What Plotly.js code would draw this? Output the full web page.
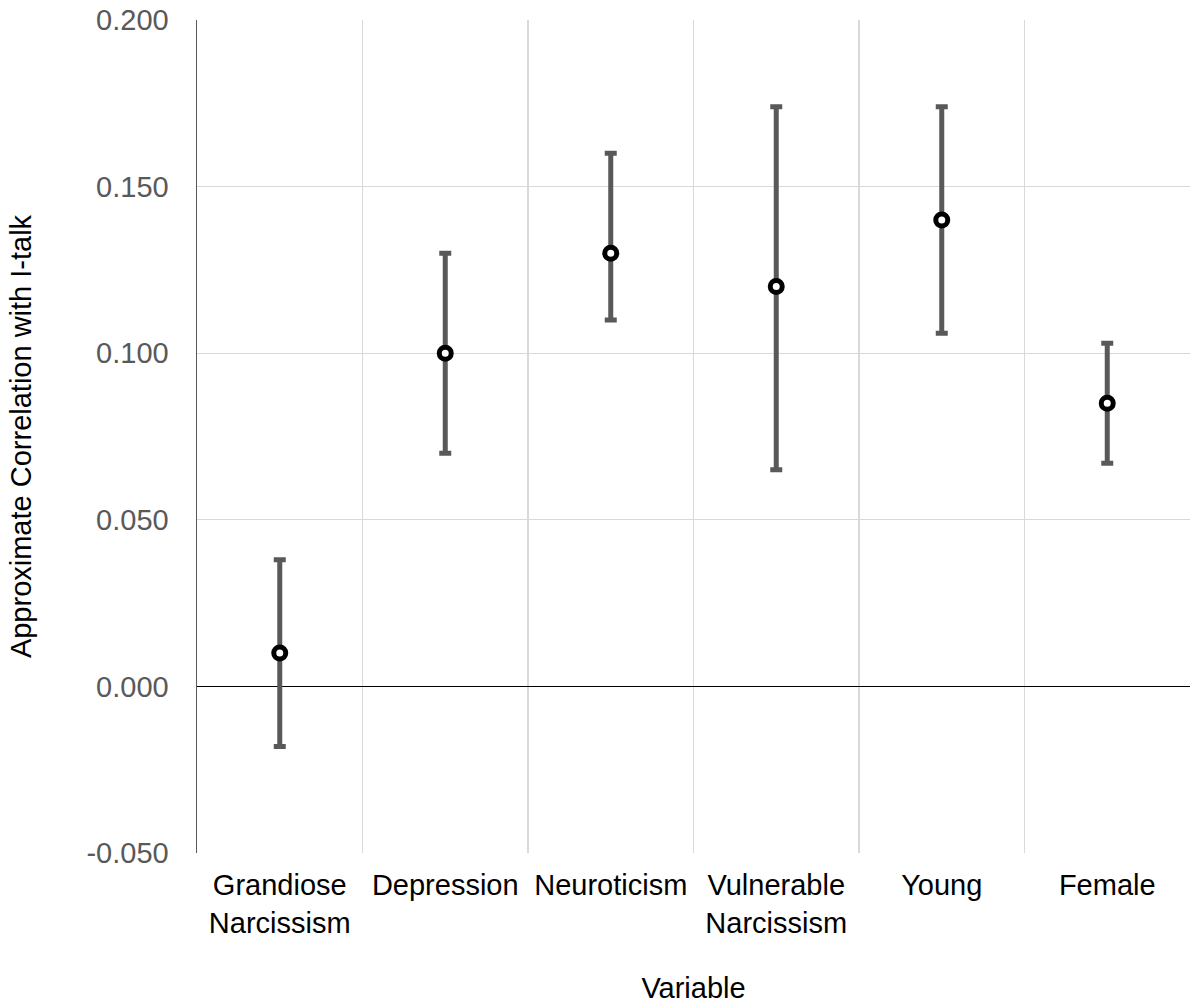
<!DOCTYPE html>
<html>
<head>
<meta charset="utf-8">
<script src="https://cdn.plot.ly/plotly-3.0.1.min.js"></script>
<style>html,body{margin:0;padding:0;background:#fff;}#chart{width:1190px;height:1004px;}</style>
</head>
<body>
<div id="chart"></div>
<script>
var categories = ["Grandiose<br>Narcissism", "Depression", "Neuroticism", "Vulnerable<br>Narcissism", "Young", "Female"];
var estimates = [0.010, 0.100, 0.130, 0.120, 0.140, 0.085];
var upperCI = [0.038, 0.130, 0.160, 0.174, 0.174, 0.103];
var lowerCI = [-0.018, 0.070, 0.110, 0.065, 0.106, 0.067];
var yTickVals = [-0.05, 0, 0.05, 0.1, 0.15, 0.2];
var yTickLabels = ["-0.050", "0.000", "0.050", "0.100", "0.150", "0.200"];

var plus = upperCI.map(function(u, i){ return u - estimates[i]; });
var minus = lowerCI.map(function(l, i){ return estimates[i] - l; });

var trace = {
  type: 'scatter',
  mode: 'markers',
  x: categories,
  y: estimates,
  marker: {symbol: 'circle', size: 12, color: '#ffffff', line: {color: '#000000', width: 5}},
  error_y: {type: 'data', symmetric: false, array: plus, arrayminus: minus, color: '#595959', thickness: 5, width: 6},
  hoverinfo: 'x+y'
};

var fam = '"Liberation Sans", Arial, sans-serif';
var font = {family: fam, size: 29, color: '#000000'};

var layout = {
  width: 1190, height: 1004,
  margin: {l: 197, r: 0, t: 20, b: 151},
  paper_bgcolor: '#ffffff', plot_bgcolor: '#ffffff',
  showlegend: false,
  font: font,
  xaxis: {
    type: 'category',
    range: [-0.5, 5.5],
    tickson: 'boundaries',
    ticks: '',
    showgrid: true, gridcolor: '#d9d9d9', gridwidth: 1.3,
    showline: false, zeroline: false,
    tickfont: {family: fam, size: 29, color: '#000000'},
    ticklabelstandoff: 12,
    automargin: false,
    title: {text: 'Variable', font: {family: fam, size: 29, color: '#000000'}, standoff: 42}
  },
  yaxis: {
    range: [-0.05, 0.2],
    tickvals: yTickVals,
    ticktext: yTickLabels,
    ticks: '',
    showgrid: true, gridcolor: '#d9d9d9', gridwidth: 1.3,
    zeroline: true, zerolinecolor: '#000000', zerolinewidth: 1.7,
    showline: true, linecolor: '#595959', linewidth: 1.5,
    tickfont: {family: fam, size: 29, color: '#595959'},
    ticklabelstandoff: 21,
    automargin: false,
    title: {text: 'Approximate Correlation with I-talk', font: {family: fam, size: 29, color: '#000000'}, standoff: 46}
  }
};

Plotly.newPlot('chart', [trace], layout, {displayModeBar: false, staticPlot: true});
</script>
</body>
</html>
